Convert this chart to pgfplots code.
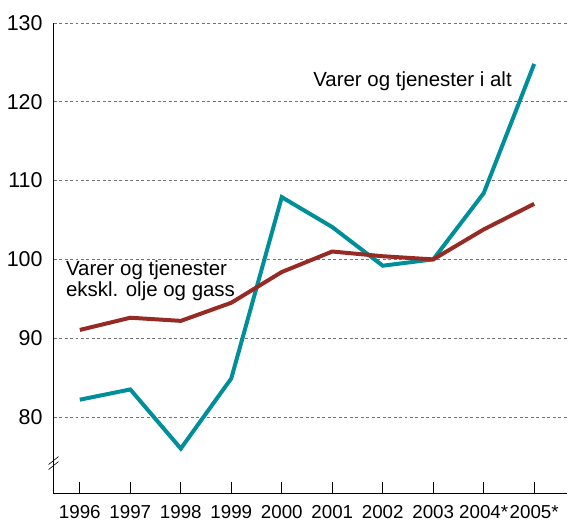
\documentclass[border=0pt]{standalone}
\usepackage{fontspec}
\setmainfont{Liberation Sans}
\usepackage{pgfplots}
\pgfplotsset{compat=1.18}
\definecolor{tealline}{RGB}{0,142,152}
\definecolor{redline}{RGB}{150,42,36}
\begin{document}
\fontsize{20.5}{21}\selectfont
\begin{tikzpicture}
\begin{axis}[
  scale only axis,
  width=515pt, height=472pt,
  xmin=-0.52, xmax=9.65,
  ymin=70.3, ymax=130,
  axis x line*=bottom, axis y line*=left,
  xtick={0,...,9},
  xticklabels={1996,1997,1998,1999,2000,2001,2002,2003,2004*,2005*},
  ytick={80,90,100,110,120,130},
  ymajorgrids,
  grid style={dash pattern=on 3pt off 2.5pt, gray!90!black, line width=0.7pt},
  major y tick style={draw=none},
  x tick style={black, line width=0.8pt},
  tick align=inside,
  major tick length=12pt,
  axis line style={black, line width=0.9pt, -},
  /pgf/number format/assume math mode=true,
  xticklabel style={yshift=-5pt, font=\fontsize{18.8}{21}\selectfont},
  yticklabel style={xshift=-4pt, font=\fontsize{21.5}{22}\selectfont},
  clip=false,
]
\addplot[tealline, line width=4pt] coordinates {
 (0,82.2) (1,83.5) (2,76.0) (3,84.9) (4,107.9) (5,104.1) (6,99.2) (7,100.0) (8,108.4) (9,124.8)};
\addplot[redline, line width=4pt] coordinates {
 (0,91.05) (1,92.6) (2,92.2) (3,94.5) (4,98.4) (5,101.0) (6,100.4) (7,100.0) (8,103.8) (9,107.05)};
\node[font=\fontsize{20.5}{21}\selectfont] at (axis cs:6.59,122.6) {Varer og tjenester i alt};
\node[font=\fontsize{20.5}{21}\selectfont, align=left] at (axis cs:1.4,97.3) {Varer og tjenester\\ekskl. olje og gass};
\draw[black, line width=0.6pt] ([xshift=-5pt,yshift=-4pt]rel axis cs:0,0.070) -- ([xshift=5pt,yshift=4pt]rel axis cs:0,0.070);
\draw[black, line width=0.6pt] ([xshift=-5pt,yshift=-9pt]rel axis cs:0,0.070) -- ([xshift=5pt,yshift=-1pt]rel axis cs:0,0.070);
\path ([yshift=23pt]rel axis cs:0,1) -- ([xshift=4pt]rel axis cs:1,1);
\end{axis}
\end{tikzpicture}
\end{document}
